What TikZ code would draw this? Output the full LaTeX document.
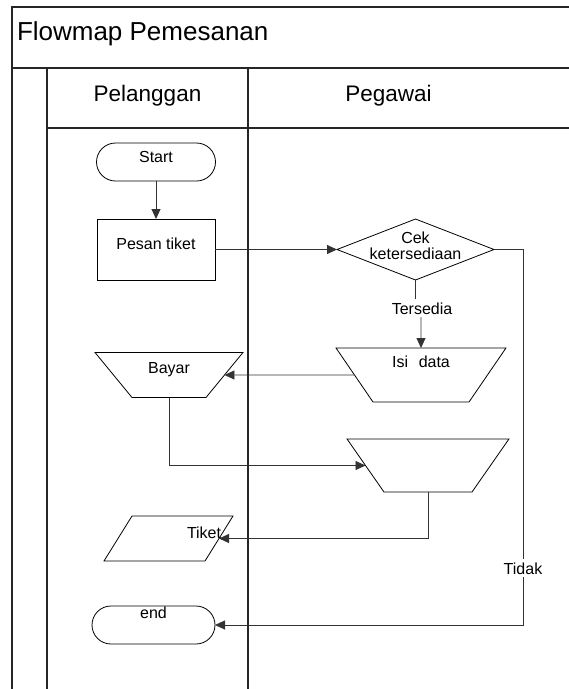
\documentclass[tikz,border=0pt]{standalone}
\usepackage{fontspec}
\setmainfont{Liberation Sans}
\usetikzlibrary{arrows.meta,shapes.geometric}

\begin{document}
\begin{tikzpicture}[x=1pt,y=-1pt]
\tikzstyle{every node}=[inner sep=0pt, outer sep=0pt, font=\fontsize{16}{18}\selectfont]
\tikzstyle{lane}=[line width=1.4pt, black!85]
\tikzstyle{term}=[draw, rectangle, rounded corners=19pt, line width=0.8pt]
\tikzstyle{proc}=[draw, rectangle, line width=0.8pt]
\tikzstyle{decide}=[draw, diamond, line width=0.8pt, align=center]
\tikzstyle{manual}=[draw, trapezium, shape border rotate=180, line width=0.8pt, align=center]
\tikzstyle{io}=[draw, trapezium, trapezium left angle=58.1, trapezium right angle=121.9, line width=0.8pt, align=left]
\tikzstyle{conn}=[line width=0.9pt, black!80]
\tikzstyle{flow}=[conn, -{Triangle[length=10pt,width=9pt]}]
\useasboundingbox (0,0) rectangle (569,689);
% frame and lanes
\draw[lane] (12,689) -- (12,7) -- (569,7);
\draw[lane] (12,68) -- (569,68);
\draw[lane] (47,68) -- (47,689);
\draw[lane] (248,68) -- (248,689);
\draw[lane] (47,128) -- (569,128);
\draw (17,40.7) node (title) [anchor=base west, font=\fontsize{26}{30}\selectfont] {Flowmap Pemesanan};
\draw (147.5,101.7) node (pelanggan) [anchor=base, font=\fontsize{22.5}{26}\selectfont] {Pelanggan};
\draw (388.5,101.7) node (pegawai) [anchor=base, font=\fontsize{22.5}{26}\selectfont] {Pegawai};
% symbols
\draw (156,162) node (start) [term, minimum width=119pt, text height=19pt, text depth=19pt] {Start};
\draw (156,249.5) node (pesan) [proc, minimum width=118pt, text height=30.5pt, text depth=30.5pt] {Pesan tiket};
\draw (415.5,249.5) node (cek) [decide, aspect=2.57, inner sep=-6pt, minimum width=157pt, minimum height=61pt, text depth=8pt, font=\fontsize{16}{16}\selectfont] {Cek\\ketersediaan};
\draw (421,375) node (isi) [manual, trapezium angle=55.6, text width=96pt, text height=19.5pt, text depth=34.5pt] {Isi\ \ data};
\draw (169,375) node (bayar) [manual, trapezium angle=50.6, text width=74pt, text height=20.5pt, text depth=24.5pt] {Bayar};
\draw (428,465.5) node (prep) [manual, trapezium angle=55.1, text width=88pt, text height=26.5pt, text depth=26.5pt] {};
\draw (168.5,538.5) node (tiket) [io, text width=73pt, text height=22.5pt, text depth=22.5pt] {\hspace*{55pt}\rlap{Tiket}};
\draw (153.5,625) node (end) [term, minimum width=123pt, text height=12.5pt, text depth=25.5pt] {end};
\draw (422,314) node (tersedia) [anchor=base, fill=white, inner sep=3pt] {Tersedia};
\draw (523,574) node (tidak) [anchor=base, fill=white, inner sep=3pt] {Tidak};
% flow
\draw[flow] (start) -- (pesan);
\draw[flow] (pesan) -- (cek);
\draw[conn] (cek) -- (cek |- tersedia.north);
\draw[flow] (isi |- tersedia.south) -- (isi);
\draw[flow] (isi) -- (bayar);
\draw[flow] (bayar) |- (prep);
\draw[flow] (prep) |- (tiket);
\draw[conn] (cek) -| (tidak.north);
\draw[flow] (tidak.south) |- (end);
\end{tikzpicture}
\end{document}
